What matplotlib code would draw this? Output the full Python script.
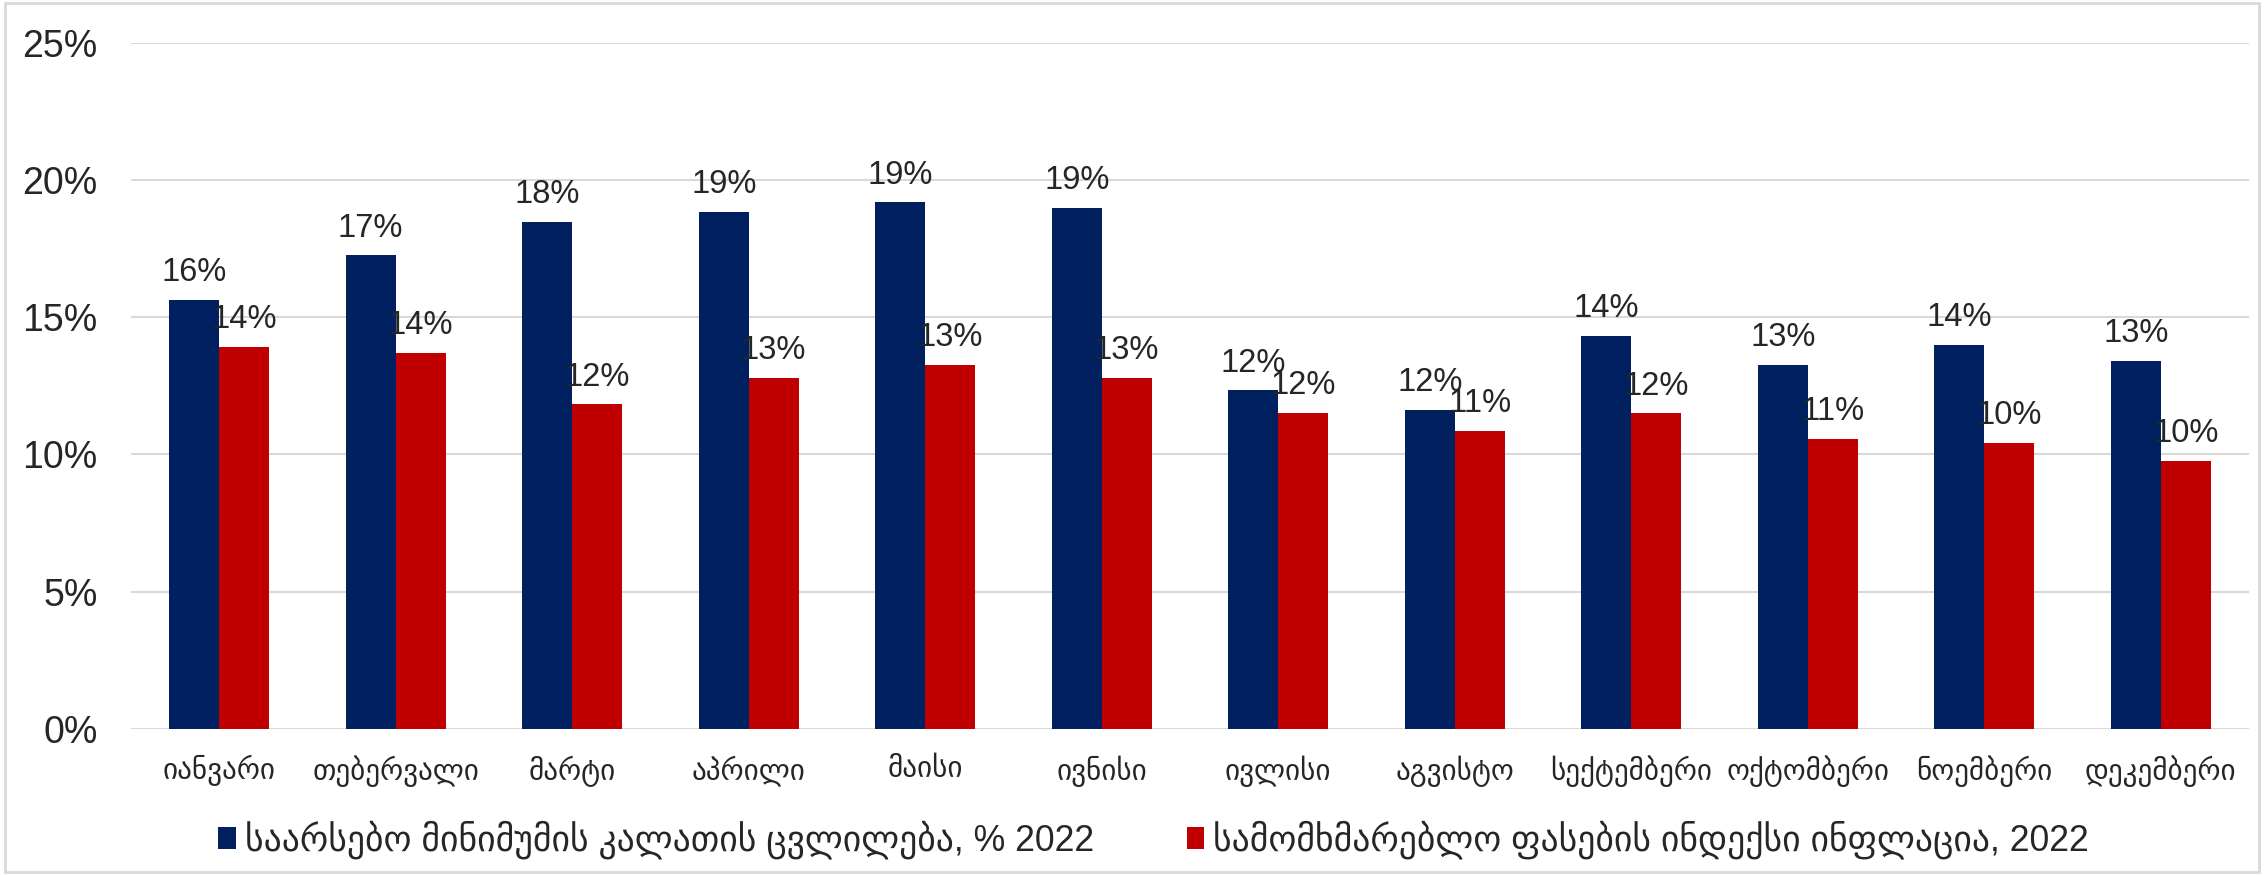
import matplotlib
matplotlib.use("Agg")
import matplotlib.pyplot as plt
from matplotlib.patches import Patch, Rectangle
import numpy as np

months = ["იანვარი", "თებერვალი", "მარტი", "აპრილი", "მაისი", "ივნისი",
          "ივლისი", "აგვისტო", "სექტემბერი", "ოქტომბერი", "ნოემბერი", "დეკემბერი"]
subsistence = [15.64, 17.26, 18.48, 18.85, 19.19, 18.98, 12.34, 11.62, 14.32, 13.26, 14.00, 13.40]
cpi = [13.91, 13.71, 11.83, 12.80, 13.27, 12.78, 11.51, 10.85, 11.50, 10.58, 10.41, 9.78]
series_names = ["საარსებო მინიმუმის კალათის ცვლილება, % 2022",
                "სამომხმარებლო ფასების ინდექსი ინფლაცია, 2022"]
yticks = [0, 5, 10, 15, 20, 25]

BLUE = "#002060"
RED = "#C00000"
TXT = "#262626"
GRID = "#D9D9D9"
FAM = ["Liberation Sans", "DejaVu Sans"]

fig = plt.figure(figsize=(22.64, 8.75), dpi=100)
ax = fig.add_axes([0.0578, 0.167, 0.9356, 0.784])

x = np.arange(len(months))
w = 0.283
b1 = ax.bar(x - w / 2, subsistence, w, color=BLUE, zorder=3)
b2 = ax.bar(x + w / 2, cpi, w, color=RED, zorder=3)

for bars, vals in ((b1, subsistence), (b2, cpi)):
    for rect, v in zip(bars, vals):
        ax.annotate(f"{int(round(v))}%", (rect.get_x() + rect.get_width() / 2, v),
                    xytext=(0, 13.5), textcoords="offset points",
                    ha="center", va="baseline", fontsize=23.5, color=TXT,
                    family=FAM, zorder=5)

ax.set_xlim(-0.5, len(months) - 0.5)
ax.set_ylim(0, 25)
ax.set_yticks(yticks)
ax.set_yticklabels([f"{t}%" for t in yticks], family=FAM, fontsize=27, color=TXT)
ax.set_xticks(x)
ax.set_xticklabels(months, family=FAM, fontsize=21, color=TXT)
ax.tick_params(axis="y", length=0, pad=24)
ax.tick_params(axis="x", length=0, pad=19)
ax.grid(axis="y", color=GRID, linewidth=1.5, zorder=0)
for s in ax.spines.values():
    s.set_visible(False)

handles = [Patch(facecolor=BLUE, edgecolor="none"), Patch(facecolor=RED, edgecolor="none")]
fig.legend(handles, series_names, loc="center", bbox_to_anchor=(0.5095, 0.04),
           ncol=2, frameon=False, prop={"family": FAM, "size": 25.7},
           handlelength=0.5, handleheight=0.55, handletextpad=0.25, columnspacing=2.6,
           labelcolor=TXT, borderpad=0, borderaxespad=0)

fig.patches.append(Rectangle((0.002, 0.003), 0.996, 0.994, transform=fig.transFigure,
                             fill=False, edgecolor=GRID, linewidth=2))

fig.savefig("out.png", dpi=100, facecolor="white")
